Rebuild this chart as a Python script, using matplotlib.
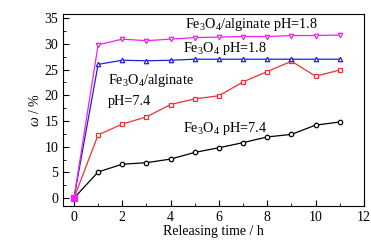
import matplotlib
matplotlib.use('Agg')
import matplotlib.pyplot as plt
from matplotlib.ticker import MultipleLocator

plt.rcParams['font.family'] = 'Liberation Serif'
plt.rcParams['mathtext.fontset'] = 'custom'
plt.rcParams['mathtext.rm'] = 'Liberation Serif'
plt.rcParams['mathtext.it'] = 'Liberation Serif:italic'

# release time (h)
hours = [0, 1, 2, 3, 4, 5, 6, 7, 8, 9, 10, 11]
# release ratio (%)
alg_ph18 = [0, 29.8, 30.9, 30.6, 30.9, 31.2, 31.3, 31.4, 31.4, 31.6, 31.6, 31.7]
fe_ph18 = [0, 26.0, 26.8, 26.7, 26.8, 27.0, 27.0, 27.0, 27.0, 27.0, 27.0, 27.0]
alg_ph74 = [0, 12.3, 14.4, 15.8, 18.2, 19.3, 19.9, 22.6, 24.6, 26.6, 23.7, 24.9]
fe_ph74 = [0, 5.1, 6.6, 6.9, 7.6, 8.9, 9.8, 10.8, 11.9, 12.4, 14.2, 14.8]

fig = plt.figure(figsize=(3.71, 2.4), dpi=100)
ax = fig.add_axes([0.170, 0.142, 0.811, 0.800])

mk = dict(markersize=3.2, markerfacecolor='white', markeredgewidth=0.9, linewidth=0.9)
ax.plot(hours, fe_ph74, color='black', marker='o', **mk)
ax.plot(hours, alg_ph74, color='#f03030', marker='s', **mk)
ax.plot(hours, fe_ph18, color='#2020e0', marker='^', **mk)
ax.plot(hours, alg_ph18, color='#f020f0', marker='v', **mk)
ax.plot([0], [0], color='#f020f0', marker='s', markersize=4, linestyle='none')

ax.set_xlim(-0.45, 12)
ax.set_ylim(-1.5, 35.8)
ax.xaxis.set_major_locator(MultipleLocator(2))
ax.xaxis.set_minor_locator(MultipleLocator(1))
ax.yaxis.set_major_locator(MultipleLocator(5))
ax.yaxis.set_minor_locator(MultipleLocator(2.5))
ax.tick_params(which='both', direction='in', labelsize=10)
ax.tick_params(which='major', length=4)
ax.tick_params(which='minor', length=2)

ax.set_xlabel('Releasing time / h', fontsize=10, labelpad=1)
ax.set_ylabel(r'$\mathit{\omega}$ / %', fontsize=10, labelpad=2)

ax.text(4.6, 33.1, r'Fe$_3$O$_4$/alginate pH=1.8', fontsize=10.3)
ax.text(4.5, 28.4, r'Fe$_3$O$_4$ pH=1.8', fontsize=10.3)
ax.text(1.4, 22.1, r'Fe$_3$O$_4$/alginate', fontsize=10.3)
ax.text(1.4, 18.2, 'pH=7.4', fontsize=10.3)
ax.text(4.5, 12.8, r'Fe$_3$O$_4$ pH=7.4', fontsize=10.3)

fig.savefig('out.png', dpi=100)
